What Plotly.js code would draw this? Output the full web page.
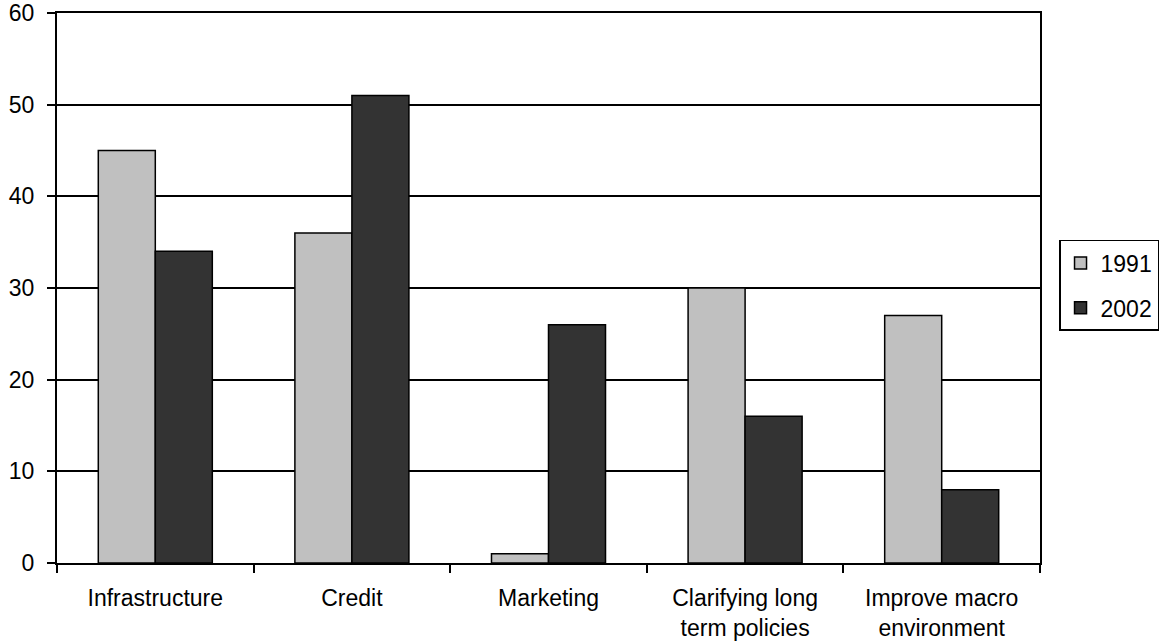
<!DOCTYPE html>
<html><head><meta charset="utf-8">
<script src="https://cdn.plot.ly/plotly-3.0.1.min.js"></script>
<style>html,body{margin:0;padding:0;background:#fff}</style>
</head><body>
<div id="chart" style="width:1163px;height:642px"></div>
<script>
const categories = ["Infrastructure", "Credit", "Marketing", "Clarifying long<br>term policies", "Improve macro<br>environment"];
const values1991 = [45, 36, 1, 30, 27];
const values2002 = [34, 51, 26, 16, 8];
const yTicks = [0, 10, 20, 30, 40, 50, 60];
const FONT = 'Liberation Sans, Arial, sans-serif';

const traces = [
  {type:'bar', name:'1991', x:categories, y:values1991, legendgroup:'a',
   marker:{color:'#c0c0c0', line:{color:'#000', width:1.5}}},
  {type:'bar', name:'2002', x:categories, y:values2002, legendgroup:'b',
   marker:{color:'#333333', line:{color:'#000', width:1.5}}}
];
const layout = {
  width:1163, height:642,
  margin:{l:57, r:123, t:13, b:79},
  paper_bgcolor:'#fff', plot_bgcolor:'#fff',
  font:{family:FONT, color:'#000', size:20},
  barmode:'group', bargap:0.42, bargroupgap:0,
  xaxis:{tickson:'boundaries', ticks:'outside', ticklen:8, tickwidth:2, tickcolor:'#000',
         showline:true, linecolor:'#000', linewidth:2, mirror:true, automargin:false,
         ticklabelstandoff:13,
         tickfont:{family:FONT, size:23, color:'#000'}, showgrid:false},
  yaxis:{range:[0,60], tickmode:'array', tickvals:yTicks, ticktext:yTicks.map(String),
         ticks:'outside', ticklen:8, tickwidth:2, tickcolor:'#000', automargin:false,
         ticklabelstandoff:8,
         showline:true, linecolor:'#000', linewidth:2, mirror:true,
         showgrid:true, gridcolor:'#000', gridwidth:1.5, zeroline:false,
         tickfont:{family:FONT, size:23, color:'#000'}},
  showlegend:true,
  legend:{xref:'container', yref:'container', x:0.9106, xanchor:'left', y:0.5553, yanchor:'middle',
          bordercolor:'#000', borderwidth:1.5, traceorder:'grouped', tracegroupgap:12,
          font:{family:FONT, size:23, color:'#000'},
          itemwidth:30}
};
Plotly.newPlot('chart', traces, layout, {displayModeBar:false});
</script>
</body></html>
